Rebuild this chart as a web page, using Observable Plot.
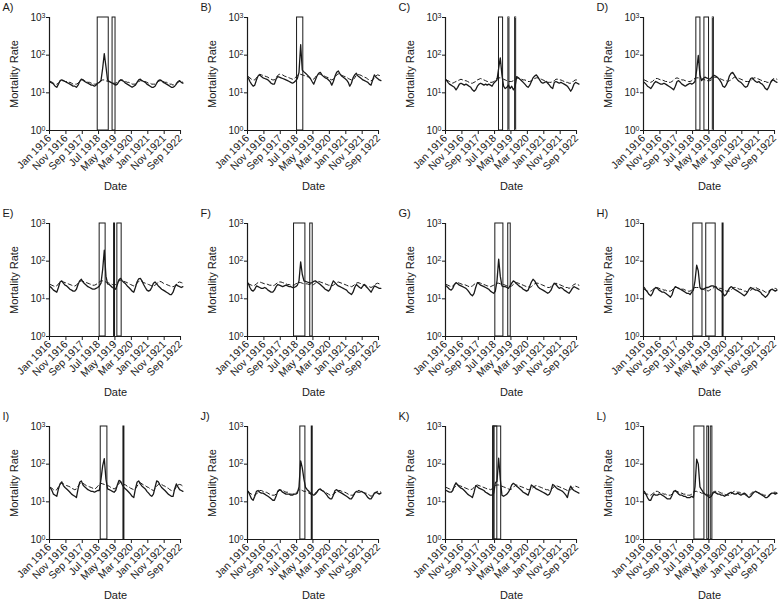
<!DOCTYPE html>
<html><head><meta charset="utf-8">
<script src="https://cdn.jsdelivr.net/npm/d3@7"></script>
<script src="https://cdn.jsdelivr.net/npm/@observablehq/plot@0.6"></script>
<style>
body{margin:0;width:781px;height:602px;overflow:hidden;background:#fff;font-family:"Liberation Sans",Arial,sans-serif;}
#root{position:relative;width:781px;height:602px;}
.panel{position:absolute;}
</style></head><body><div id="root"></div>
<script>
const panelLetters = ["A","B","C","D","E","F","G","H","I","J","K","L"];
const xTickLabels = ["Jan 1916","Nov 1916","Sep 1917","Jul 1918","May 1919","Mar 1920","Jan 1921","Nov 1921","Sep 1922"];
const yTickValues = [1, 10, 100, 1000];
const yLabel = "Mortality Rate";
const xLabel = "Date";
const firstMonth = "1916-01";

const obsA = [20,19,17,15,14,17,21,22,21,20,19,18, 17,16,15,15,14,16,20,23,22,20,19,18, 17,16,16,15,16,18,19,21,45,110,50,22, 20,19,18,17,16,17,20,22,21,20,18,17, 16,15,14,15,16,19,22,23,21,20,19,17, 16,15,14,14,15,18,21,22,21,19,18,17, 16,15,14,14,15,17,20,21,19,18];
const expA = [19,18,18,17,17,18,20,21,21,20,20,19, 19,18,17,17,17,18,20,22,22,21,20,19, 19,18,18,17,17,18,20,21,22,22,21,20, 20,19,18,18,18,19,21,22,22,21,20,19, 19,18,17,17,17,18,20,21,21,20,20,19, 18,18,17,17,17,18,20,21,21,20,19,19, 18,17,17,16,17,18,19,20,20,19];
const obsB = [25,20,17,15,16,22,28,30,27,25,24,23, 22,20,18,17,17,23,27,26,25,24,23,22, 21,20,19,18,19,21,24,35,190,40,36,33, 30,27,24,20,17,22,28,33,35,30,27,25, 24,22,20,16,20,28,35,38,32,28,26,24, 22,19,15,18,25,30,33,28,26,24,22,21, 20,19,17,16,22,30,26,24,22,21];
const expB = [27,25,23,22,22,25,29,31,30,29,28,27, 26,24,23,22,22,25,29,31,31,30,28,27, 26,25,24,23,23,26,29,31,31,30,29,28, 27,26,24,23,23,26,30,32,31,30,29,27, 26,25,23,22,23,26,30,32,31,29,28,27, 26,24,23,22,22,25,29,31,30,29,27,26, 25,23,22,21,22,25,28,30,29,28];
const obsC = [22,19,17,16,15,14,12,14,17,18,17,16, 17,16,15,14,12,11,12,15,17,18,17,16, 17,16,17,16,15,18,20,22,45,85,30,15, 13,14,16,13,15,12,14,27,25,23,21,19, 17,15,14,16,20,25,28,30,26,22,19,18, 19,20,18,16,14,13,19,20,19,18,19,18, 17,16,15,13,11,13,17,19,18,17];
const expC = [22,21,20,19,18,19,20,21,22,23,22,21, 21,20,19,18,18,19,20,22,23,24,23,22, 21,20,20,19,19,20,22,24,25,25,24,23, 22,21,20,20,20,21,22,24,25,24,23,22, 22,21,20,20,21,22,24,25,25,24,23,22, 21,20,19,19,19,20,21,23,23,22,22,21, 20,19,19,18,18,19,21,22,22,21];
const obsD = [19,17,15,14,13,15,18,20,19,18,17,17, 18,17,16,15,14,13,12,15,20,21,19,17, 16,15,16,17,18,17,18,20,40,98,30,21, 24,26,25,24,23,25,28,29,27,25,22,19, 15,14,16,20,28,33,35,30,25,22,20,19, 17,15,14,15,19,24,25,22,20,19,20,18, 17,15,13,12,14,18,21,22,20,19];
const expD = [22,21,20,19,19,20,22,24,24,23,22,22, 21,20,20,19,19,20,22,24,25,24,23,22, 22,21,21,20,20,21,23,24,25,25,24,23, 23,22,21,21,21,22,24,26,26,25,24,23, 22,21,21,20,21,22,24,26,26,25,24,23, 22,21,20,20,20,21,23,25,25,24,23,22, 21,20,20,19,19,20,22,24,24,23];
const obsE = [21,19,17,16,15,20,28,30,26,23,22,20, 18,17,16,16,18,24,30,33,28,25,23,21, 20,19,18,18,19,20,22,26,60,195,40,25, 24,22,20,19,18,24,32,35,30,27,25,22, 20,18,16,15,20,28,34,35,30,24,20,17, 16,17,20,26,28,25,22,20,18,17,16,15, 14,13,13,15,20,24,22,21,20,21];
const expE = [24,23,22,21,22,25,28,29,28,27,26,25, 24,23,22,22,23,26,29,30,29,28,27,26, 25,24,23,23,24,26,28,30,30,29,28,27, 26,25,24,23,24,27,30,31,30,29,28,27, 25,24,23,22,23,26,29,30,29,27,26,25, 24,23,22,22,23,25,28,29,28,26,25,24, 23,22,21,21,22,24,27,28,27,26];
const obsF = [26,20,17,16,18,22,21,20,19,19,20,19, 17,16,15,15,17,21,24,23,22,21,22,23, 22,21,21,20,20,21,23,30,96,45,30,29, 28,27,26,27,29,30,28,26,24,22,20,18, 17,16,18,24,30,27,24,22,21,20,19,18, 17,15,14,13,15,20,24,22,20,19,22,24, 21,19,17,15,18,22,21,20,19,19];
const expF = [25,24,23,22,23,25,27,28,27,26,25,25, 24,23,23,22,23,25,27,28,28,27,26,25, 24,24,23,23,23,25,26,27,27,26,25,25, 25,24,24,23,24,26,28,29,28,27,26,25, 24,23,23,22,23,25,27,28,27,26,25,24, 23,22,22,21,22,24,26,27,26,25,24,23, 22,21,21,20,21,23,25,26,25,24];
const obsG = [22,20,18,17,19,24,27,25,23,22,21,20, 19,17,15,13,12,14,20,27,25,23,22,21, 20,19,18,16,15,14,16,30,113,40,22,21, 21,20,19,22,26,30,28,25,23,21,20,18, 17,16,17,22,28,33,30,25,21,19,18,17, 16,15,14,15,17,22,26,24,21,19,20,19, 17,16,15,14,16,19,21,20,19,18];
const expG = [24,23,22,21,22,24,26,27,26,25,24,24, 23,22,21,21,22,24,26,27,27,26,25,24, 23,22,22,21,22,23,25,26,26,25,24,24, 23,22,22,21,22,24,26,27,26,25,24,23, 22,21,21,20,21,23,25,26,26,25,24,23, 22,21,20,20,21,23,25,26,25,24,23,22, 21,20,20,19,20,22,24,25,24,23];
const obsH = [20,17,15,13,12,14,18,20,19,17,16,15, 15,14,13,12,11,13,18,21,20,19,18,17, 16,15,14,14,13,15,17,30,78,55,20,18, 18,19,20,20,21,22,22,21,20,18,17,16, 14,12,13,16,19,21,20,18,17,16,15,14, 13,12,13,15,18,20,19,18,17,17,16,15, 13,12,11,12,14,17,18,17,16,17];
const expH = [18,17,16,16,16,17,19,20,20,19,18,18, 17,17,16,16,16,17,19,20,20,19,19,18, 18,17,17,16,16,17,19,20,20,20,19,18, 18,17,17,16,17,18,19,21,21,20,19,19, 18,17,16,16,16,17,19,20,20,19,18,18, 17,16,16,15,16,17,18,20,20,19,18,17, 17,16,15,15,16,17,18,19,19,18];
const obsI = [24,20,16,15,14,22,30,34,27,24,22,20, 18,16,15,14,13,22,33,36,28,25,23,21, 20,19,19,18,19,20,20,40,90,141,40,22, 21,20,19,18,20,28,37,35,28,24,22,20, 18,16,14,13,22,33,36,30,26,24,22,19, 17,15,14,16,24,36,34,28,24,22,20,18, 16,15,14,14,22,30,25,21,20,19];
const expI = [24,23,21,20,21,25,29,31,30,28,27,26, 25,23,22,21,22,26,30,32,31,29,27,26, 25,24,23,22,23,26,29,31,30,29,28,27, 26,24,23,22,23,27,31,33,31,29,28,26, 25,23,22,21,22,26,30,32,30,28,27,25, 24,22,21,20,22,26,29,31,29,27,26,24, 23,21,20,20,21,25,28,29,28,26];
const obsJ = [19,15,12,11,14,19,20,18,17,17,16,15, 14,13,12,11,11,14,19,21,20,18,17,16, 16,16,15,15,16,16,17,25,122,80,40,24, 21,19,17,16,15,16,18,21,22,20,19,17, 15,13,12,12,15,20,21,19,18,17,16,15, 14,13,12,12,14,17,19,18,18,19,18,17, 15,13,12,12,14,17,18,17,16,17];
const expJ = [18,17,16,15,15,16,18,20,20,19,18,18, 17,16,15,15,15,16,18,20,21,20,19,18, 18,17,16,16,16,17,19,21,21,20,19,19, 18,17,16,16,16,17,19,21,21,20,19,18, 17,16,15,15,16,17,19,20,20,19,18,18, 17,16,15,15,15,16,18,20,20,19,18,17, 17,16,15,14,15,16,18,19,19,18];
const obsK = [20,19,18,18,20,27,32,28,25,23,22,20, 18,16,15,14,13,18,27,25,23,22,21,20, 18,17,16,15,15,17,32,35,144,40,15,14, 15,16,18,22,28,31,29,26,24,22,20,18, 17,16,15,20,28,26,24,22,21,20,19,18, 17,16,15,16,20,29,27,24,22,21,20,19, 17,15,13,20,26,22,20,19,18,17];
const expK = [24,23,22,21,22,24,27,28,27,26,25,24, 23,22,21,21,22,24,27,28,27,26,25,24, 23,22,22,21,22,24,27,28,28,27,26,25, 24,23,22,21,22,24,27,28,27,26,25,24, 23,22,21,21,22,24,26,27,26,25,24,23, 22,21,21,20,21,23,26,27,26,25,24,23, 22,21,20,20,21,23,25,26,25,24];
const obsL = [19,16,13,11,11,14,16,15,15,16,16,15, 14,13,12,12,12,15,19,20,18,16,15,15, 14,14,13,13,13,14,13,25,135,100,25,21, 18,16,15,14,13,14,17,18,17,16,16,15, 15,14,15,16,17,18,17,16,16,17,16,15, 16,17,16,14,13,14,16,18,19,18,17,16, 15,14,13,13,14,16,17,17,16,17];
const expL = [17,16,16,15,15,16,18,19,19,18,17,17, 16,16,15,15,15,16,18,19,19,18,17,17, 16,16,15,15,15,16,18,19,19,18,18,17, 17,16,16,15,15,16,18,19,19,19,18,17, 17,16,15,15,15,16,18,19,19,18,18,17, 16,16,15,15,15,16,18,19,19,18,17,17, 16,15,15,14,15,16,17,18,18,17];

const boxesA = [["1918-06-15","1919-01-06"],["1919-03-18","1919-05-12"]];
const boxesB = [["1918-07-10","1918-11-03"]];
const boxesC = [["1918-09-21","1918-12-06"],["1919-03-15","1919-04-03"],["1919-07-18","1919-08-06"]];
const boxesD = [["1918-09-09","1918-11-24"],["1919-02-06","1919-05-03"],["1919-07-12","1919-08-01"]];
const boxesE = [["1918-07-21","1918-11-09"],["1919-04-15","1919-05-03"],["1919-06-15","1919-09-03"]];
const boxesF = [["1918-05-15","1918-12-12"],["1919-03-12","1919-04-27"]];
const boxesG = [["1918-07-15","1918-12-12"],["1919-03-12","1919-04-27"]];
const boxesH = [["1918-07-15","1919-01-01"],["1919-03-12","1919-09-03"],["1920-01-10","1920-01-28"]];
const boxesI = [["1918-08-10","1918-12-12"],["1919-10-06","1919-10-24"]];
const boxesJ = [["1918-09-09","1918-12-12"],["1919-04-09","1919-04-27"]];
const boxesK = [["1918-06-06","1918-06-27"],["1918-06-27","1918-08-21"],["1918-06-06","1918-11-01"]];
const boxesL = [["1918-08-04","1919-02-06"],["1919-04-01","1919-05-01"],["1919-06-04","1919-07-04"]];

const observed = [obsA,obsB,obsC,obsD,obsE,obsF,obsG,obsH,obsI,obsJ,obsK,obsL];
const expected = [expA,expB,expC,expD,expE,expF,expG,expH,expI,expJ,expK,expL];
const boxes = [boxesA,boxesB,boxesC,boxesD,boxesE,boxesF,boxesG,boxesH,boxesI,boxesJ,boxesK,boxesL];

const parseDay = d3.utcParse("%Y-%m-%d");
const parseTick = d3.utcParse("%b %Y");
const start = d3.utcParse("%Y-%m")(firstMonth);
const monthDate = i => new Date(Date.UTC(start.getUTCFullYear(), start.getUTCMonth() + i, 15));
const xTicks = xTickLabels.map(parseTick);
const xDomain = [start, new Date(Date.UTC(1922, 8, 19))];

const colLeft = [0, 198, 396, 594];
const colWidth = [198, 198, 198, 187];
const rowTop = [0, 206, 409];
const ink = "#1a1a1a";
const svgns = "http://www.w3.org/2000/svg";
const root = document.getElementById("root");

panelLetters.forEach((letter, k) => {
  const c = k % 4, r = Math.floor(k / 4);
  const W = colWidth[c];
  const obs = observed[k].map((v, i) => ({date: monthDate(i), value: v}));
  const exp = expected[k].map((v, i) => ({date: monthDate(i), value: v}));
  const bx = boxes[k].map(([a, b]) => ({start: parseDay(a), end: parseDay(b)}));
  const chart = Plot.plot({
    width: W, height: 200,
    marginLeft: 49, marginRight: W - 49 - 132, marginTop: 17, marginBottom: 70,
    style: {fontFamily: '"Liberation Sans", Arial, sans-serif', fontSize: "10px", color: ink, background: "transparent", overflow: "visible"},
    x: {type: "utc", domain: xDomain, axis: null},
    y: {type: "log", domain: [1, 1000], axis: null},
    marks: [
      Plot.axisX({ticks: xTicks, tickFormat: d3.utcFormat("%b %Y"), tickRotate: -45, tickSize: 4, tickPadding: 2, label: null, fontSize: 10.5}),
      Plot.axisY({ticks: yTickValues, tickFormat: d => "10^" + Math.round(Math.log10(d)), tickSize: 3, tickPadding: 1, label: null, fontSize: 10}),
      Plot.rect(bx, {x1: "start", x2: "end", y1: 1, y2: 1000, fill: "none", stroke: ink, strokeWidth: 1}),
      Plot.line(exp, {x: "date", y: "value", stroke: ink, strokeWidth: 1, strokeDasharray: "4,3"}),
      Plot.line(obs, {x: "date", y: "value", stroke: ink, strokeWidth: 1.3}),
      Plot.ruleX([xDomain[0]], {y1: 1, y2: 1000, stroke: ink, strokeWidth: 1.2}),
      Plot.ruleY([1], {stroke: ink, strokeWidth: 1}),
      Plot.text([yLabel], {text: d => d, frameAnchor: "left", dx: -35, rotate: -90, textAnchor: "middle", lineAnchor: "middle", fontSize: 11, fill: ink}),
      Plot.text([xLabel], {text: d => d, frameAnchor: "bottom", dy: 56, textAnchor: "middle", lineAnchor: "middle", fontSize: 11, fill: ink}),
      Plot.text([letter + ")"], {text: d => d, frameAnchor: "top-left", dx: -47, dy: -10, textAnchor: "start", lineAnchor: "middle", fontSize: 11, fill: ink})
    ]
  });
  chart.querySelectorAll("text").forEach(t => {
    const m = /^10\^(\d)$/.exec(t.textContent);
    if (m) {
      t.textContent = "10";
      const ts = document.createElementNS(svgns, "tspan");
      ts.setAttribute("dy", "-0.45em");
      ts.setAttribute("font-size", "7");
      ts.textContent = m[1];
      t.appendChild(ts);
    }
  });
  const div = document.createElement("div");
  div.className = "panel";
  div.style.left = colLeft[c] + "px";
  div.style.top = rowTop[r] + "px";
  div.appendChild(chart);
  root.appendChild(div);
});
</script>
</body></html>
